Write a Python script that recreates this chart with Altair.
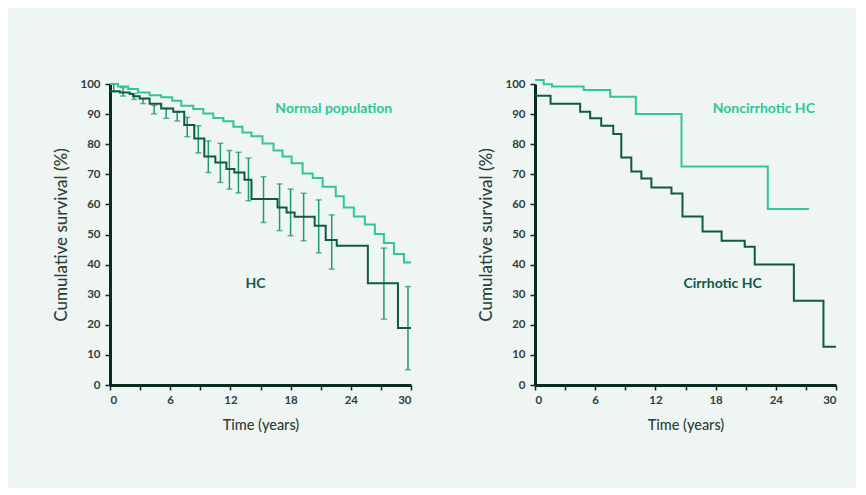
import altair as alt
import pandas as pd

# Left panel: normal population vs HC
norm_t = [0, 0.8, 1.8, 2.8, 3.95, 5.1, 6.2, 7.1, 8.3, 9.3, 10.3, 11.3, 12.3, 13.2, 14.1, 15.2,
          16.3, 17.2, 18.1, 19.2, 20.2, 21.2, 22.5, 23.3, 24.3, 25.4, 26.4, 27.3, 28.3, 29.3, 30]
norm_v = [100, 99.2, 98.3, 97.2, 96.3, 95.6, 94.4, 92.8, 91.7, 90.2, 88.7, 87.6, 85.8, 83.9, 82.6, 80.2,
          77.9, 75.9, 73.7, 70.3, 68.8, 65.9, 62.7, 59.0, 56.0, 53.3, 50.2, 47.2, 43.5, 40.7, 40.7]

hc_t = [0, 0.97, 1.97, 2.3, 2.96, 3.95, 5.1, 6.3, 7.4, 8.4, 9.4, 10.5, 11.6, 12.4, 13.4, 14.1,
        16.7, 17.6, 18.4, 20.4, 21.5, 22.6, 25.7, 28.7, 30]
hc_v = [97.6, 97.2, 96.7, 95.9, 95.2, 93.4, 91.9, 90.8, 86.4, 81.9, 75.9, 73.9, 71.8, 70.6, 68.2, 61.8,
        59.0, 57.3, 55.9, 52.9, 48.2, 46.3, 33.8, 18.9, 18.9]

err_t = [0.37, 1.3, 2.4, 3.3, 4.4, 5.6, 6.7, 7.7, 8.8, 9.8, 11.0, 11.9, 12.8, 13.8, 15.3, 16.9,
         18.0, 19.3, 20.8, 22.1, 27.3, 29.7]
err_hi = [100.1, 98.8, 96.8, 95.1, 92.9, 91.9, 90.6, 88.9, 86.1, 81.1, 80.3, 77.9, 77.3, 75.4, 69.2, 66.8,
          65.1, 63.7, 61.5, 56.5, 45.5, 32.7]
err_lo = [97.4, 96.0, 94.9, 93.5, 90.1, 88.6, 87.7, 82.5, 77.1, 70.6, 67.3, 65.1, 63.8, 61.2, 54.0, 51.3,
          49.6, 47.9, 43.9, 38.5, 21.9, 5.1]

# Right panel: noncirrhotic vs cirrhotic HC
noncirr_t = [0, 0.87, 1.7, 4.85, 7.5, 10.05, 14.6, 23.2, 27.3]
noncirr_v = [101.3, 99.9, 99.2, 98.0, 95.8, 90.0, 72.6, 58.5, 58.5]

cirr_t = [0, 1.55, 4.5, 5.5, 6.6, 7.8, 8.6, 9.6, 10.6, 11.6, 13.6, 14.7, 16.7, 18.6, 20.9, 21.9,
          25.8, 28.75, 30]
cirr_v = [96.1, 93.4, 90.8, 88.6, 86.1, 83.4, 75.6, 70.9, 68.6, 65.6, 63.6, 56.0, 51.0, 47.9, 45.9, 40.0,
          28.0, 12.7, 12.7]

left_labels = ["Normal population", "HC"]
left_label_t = [22.3, 14.5]
left_label_v = [91.8, 33.7]
right_labels = ["Noncirrhotic HC", "Cirrhotic HC"]
right_label_t = [22.8, 18.7]
right_label_v = [91.8, 33.7]

x_ticks = list(range(0, 31, 3))
y_ticks = list(range(0, 101, 10))

LIGHT = "#30c59b"
DARK = "#0f5a44"
ERR = "#1d9875"
AXIS = "#0b2b21"
FONT = "Lato"

W, H = 301, 301


def X(field):
    return alt.X(field, scale=alt.Scale(domain=[0, 30], nice=False),
                 axis=alt.Axis(values=x_ticks,
                               labelExpr="datum.value % 6 == 0 ? datum.label : ''",
                               title="Time (years)"))


def Y(field):
    return alt.Y(field, scale=alt.Scale(domain=[0, 100], nice=False),
                 axis=alt.Axis(values=y_ticks, title="Cumulative survival (%)"))


def series_df(name, t, v):
    return pd.DataFrame({"t": t, "v": v, "s": name})


def lines(df, names, colors):
    return alt.Chart(df).mark_line(interpolate="step-after", strokeWidth=2).encode(
        x=X("t:Q"), y=Y("v:Q"),
        color=alt.Color("s:N", scale=alt.Scale(domain=names, range=colors), legend=None),
    )


def labels(names, ts, vs, colors):
    df = pd.DataFrame({"name": names, "t": ts, "v": vs})
    return alt.Chart(df).mark_text(font=FONT, fontWeight="bold", fontSize=14).encode(
        x=X("t:Q"), y=Y("v:Q"), text="name:N",
        color=alt.Color("name:N", scale=alt.Scale(domain=names, range=colors), legend=None),
    )


left_df = pd.concat([series_df("Normal population", norm_t, norm_v),
                     series_df("HC", hc_t, hc_v)])
err_df = pd.DataFrame({"t": err_t, "hi": err_hi, "lo": err_lo})

err_rule = alt.Chart(err_df).mark_rule(color=ERR, strokeWidth=1.5).encode(
    x=X("t:Q"), y=Y("lo:Q"), y2="hi:Q")
err_cap_hi = alt.Chart(err_df).mark_tick(color=ERR, orient="horizontal", size=6, thickness=1.5).encode(
    x=X("t:Q"), y=Y("hi:Q"))
err_cap_lo = alt.Chart(err_df).mark_tick(color=ERR, orient="horizontal", size=6, thickness=1.5).encode(
    x=X("t:Q"), y=Y("lo:Q"))

left = alt.layer(
    err_rule, err_cap_hi, err_cap_lo,
    lines(left_df, ["Normal population", "HC"], [LIGHT, DARK]),
    labels(left_labels, left_label_t, left_label_v, [LIGHT, DARK]),
).resolve_scale(color="independent").properties(width=W, height=H)

right_df = pd.concat([series_df("Noncirrhotic HC", noncirr_t, noncirr_v),
                      series_df("Cirrhotic HC", cirr_t, cirr_v)])
right = alt.layer(
    lines(right_df, ["Noncirrhotic HC", "Cirrhotic HC"], [LIGHT, DARK]),
    labels(right_labels, right_label_t, right_label_v, [LIGHT, DARK]),
).resolve_scale(color="independent").properties(width=W, height=H)

chart = alt.hconcat(left, right, spacing=62).properties(
    background="#eff5f2",
    padding={"left": 44, "top": 68, "right": 16, "bottom": 56},
).configure_view(stroke=None).configure_axis(
    grid=False,
    domainColor=AXIS, domainWidth=3,
    tickColor=AXIS, tickWidth=1.5, tickSize=5,
    labelFont=FONT, labelFontWeight="bold", labelFontSize=11.5, labelColor="#2e423b",
    labelPadding=4, labelOverlap=False,
    titleFont=FONT, titleFontWeight=500, titleColor="#2a4038",
).configure_axisX(titleFontSize=14.5, titlePadding=13).configure_axisY(
    titleFontSize=17, titlePadding=9, labelPadding=5)

chart.save("out.html", embed_options={"renderer": "svg", "actions": False})
